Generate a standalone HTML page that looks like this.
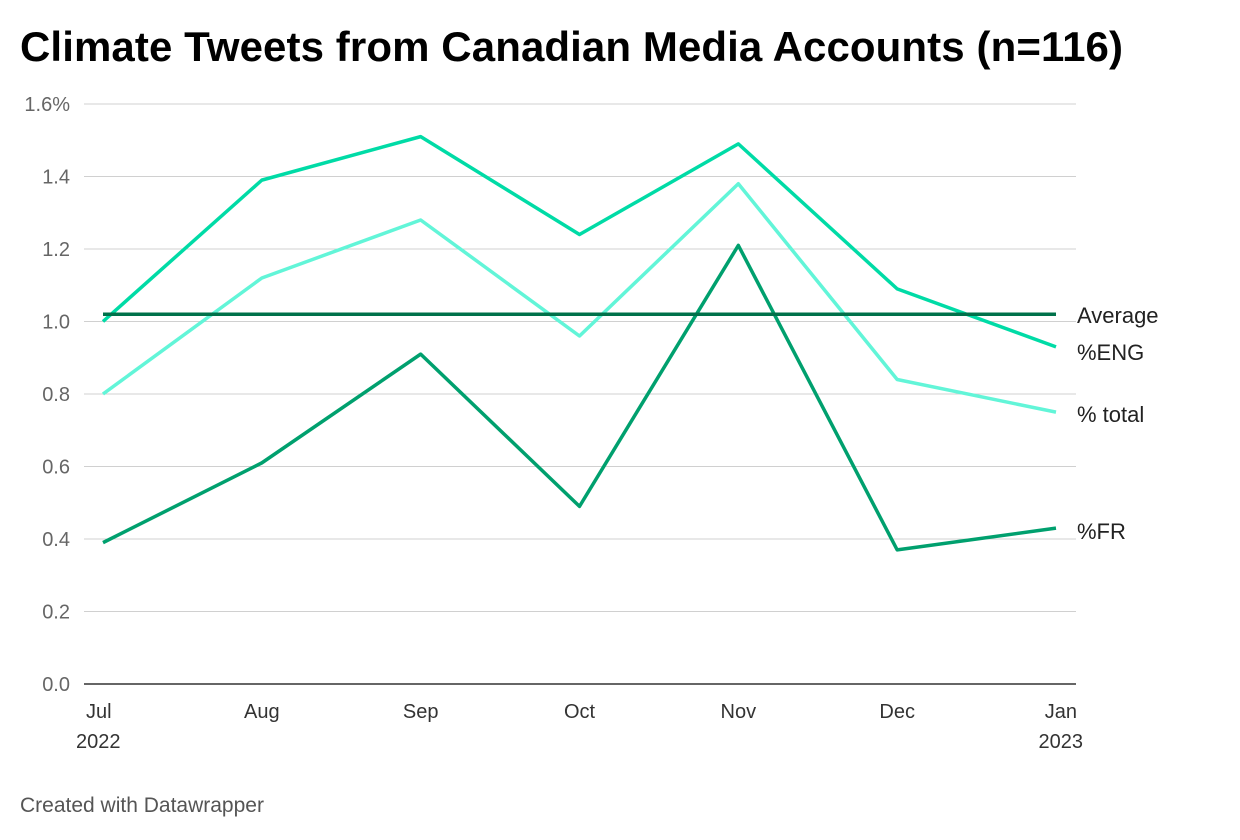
<!DOCTYPE html>
<html><head><meta charset="utf-8"><style>
body{margin:0;background:#fff;font-family:"Liberation Sans",sans-serif;}
</style></head><body>
<svg width="1240" height="840" style="display:block">
<text x="20" y="61" font-size="42" font-weight="bold" fill="#000" textLength="1103">Climate Tweets from Canadian Media Accounts (n=116)</text>
<g id="grid"></g><g id="lines"></g><g id="labels"></g>
<text x="20" y="812" font-size="21" fill="#555">Created with Datawrapper</text>
</svg>
<script>
const months=["Jul","Aug","Sep","Oct","Nov","Dec","Jan"];
const years=["2022","","","","","","2023"];
const eng=[1.00,1.39,1.51,1.24,1.49,1.09,0.93];
const total=[0.80,1.12,1.28,0.96,1.38,0.84,0.75];
const fr=[0.39,0.61,0.91,0.49,1.21,0.37,0.43];
const avg=[1.02,1.02,1.02,1.02,1.02,1.02,1.02];
const yTicks=[0,0.2,0.4,0.6,0.8,1.0,1.2,1.4,1.6];
const yTickLabels=["0.0","0.2","0.4","0.6","0.8","1.0","1.2","1.4","1.6%"];
const NS="http://www.w3.org/2000/svg";
const x=i=>103+i*(1056-103)/(months.length-1);
const y=v=>684-v*(684-104)/1.6;
const grid=document.getElementById('grid'),lines=document.getElementById('lines'),labels=document.getElementById('labels');
function mk(tag,attrs,parent,txt){const e=document.createElementNS(NS,tag);for(const k in attrs)e.setAttribute(k,attrs[k]);if(txt!==undefined)e.textContent=txt;parent.appendChild(e);return e;}
yTicks.forEach((t,i)=>{
 const l=mk('line',{x1:84,x2:1076,y1:y(t),y2:y(t),stroke:i===0?'#333':'#d0d0d0','stroke-width':i===0?1.5:1},grid);
 
 
 const tx=mk('text',{x:70,y:y(t)+7,'font-size':20,fill:'#666','text-anchor':'end'},grid,yTickLabels[i]);
 
 
});
months.forEach((m,i)=>{
 const anchor=i===0?'start':(i===months.length-1?'end':'middle');
 const a=mk('text',{x:i===0?86:(i===months.length-1?1077:x(i)),y:718,'font-size':20,fill:'#333','text-anchor':anchor},grid,m);
 
 
 if(years[i]){const b=mk('text',{x:i===0?76:1083,y:748,'font-size':20,fill:'#333','text-anchor':anchor},grid,years[i]);
 
 }
});
const series=[[total,'#62f5d8','% total','line-total'],[fr,'#00a06e','%FR','line-fr'],[eng,'#00dba6','%ENG','line-eng'],[avg,'#00714a','Average','line-average']];
const labY={'Average':323,'%ENG':360,'% total':422,'%FR':539};
series.forEach(([d,c,n,id])=>{
 const p=mk('polyline',{points:d.map((v,i)=>x(i)+','+y(v)).join(' '),fill:'none',stroke:c,'stroke-width':3.5,'stroke-linejoin':'round'},lines);
 
 
 const t=mk('text',{x:1077,y:labY[n],'font-size':22,fill:'#222'},labels,n);
 
 
});
</script>
</body></html>
